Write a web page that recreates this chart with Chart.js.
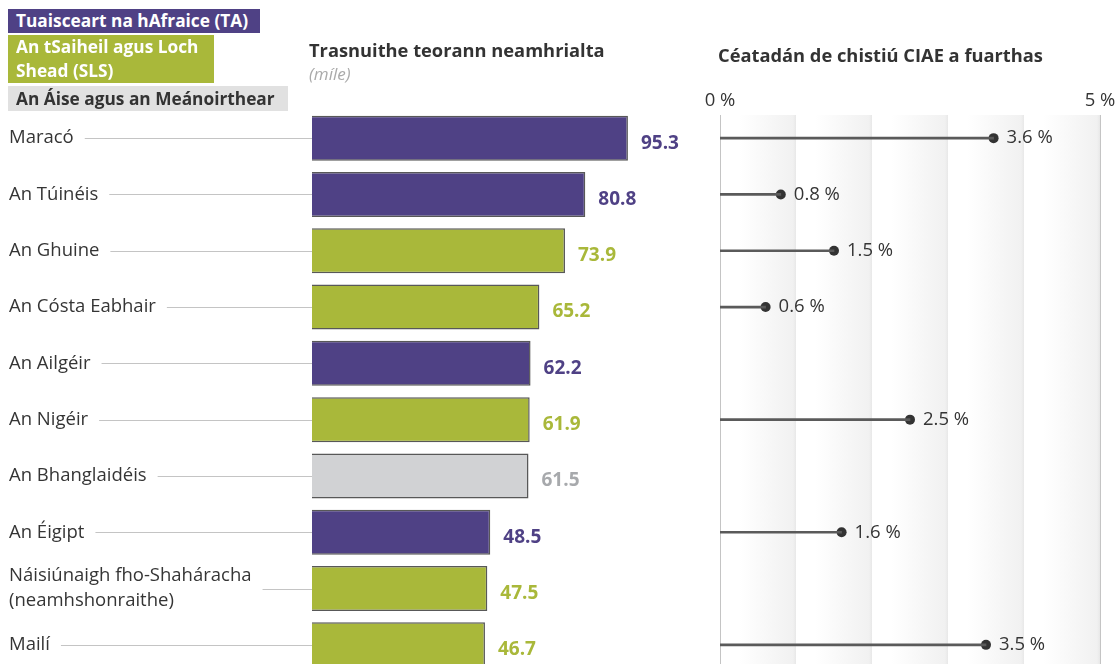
<!DOCTYPE html>
<html lang="ga">
<head>
<meta charset="utf-8">
<title>Trasnuithe teorann neamhrialta</title>
<script src="https://cdn.jsdelivr.net/npm/chart.js@4.4.1/dist/chart.umd.min.js"></script>
<style>
  html, body { margin: 0; padding: 0; background: #fff; overflow: hidden; }
  body { width: 1118px; height: 664px; position: relative; font-family: "Open Sans", sans-serif; color: #333; }
  canvas { position: absolute; top: 0; }
  #bars { left: 0; }
  #share { left: 700px; }
  .key { position: absolute; left: 8px; font-weight: 700; font-size: 17.3px; line-height: 24px;
         padding-left: 8px; box-sizing: border-box; color: #fff; white-space: nowrap; }
  .key.ta { top: 9px; width: 252px; height: 24px; background: #4f4185; }
  .key.sls { top: 35px; width: 206px; height: 48px; background: #a9b83a; }
  .key.ame { top: 86px; width: 280px; height: 25px; line-height: 25px; background: #e1e1e1; color: #333; }
  .title { position: absolute; font-weight: 700; font-size: 18.3px; color: #333; white-space: nowrap; }
  .unit { position: absolute; font-style: italic; font-size: 17px; color: #aaa; }
</style>
</head>
<body>
<canvas id="bars" width="700" height="700"></canvas>
<canvas id="share" width="418" height="700"></canvas>

<div class="key ta">Tuaisceart na hAfraice (TA)</div>
<div class="key sls">An tSaiheil agus Loch<br>Shead (SLS)</div>
<div class="key ame">An Áise agus an Meánoirthear</div>

<div class="title" style="left:309px; top:37px;">Trasnuithe teorann neamhrialta</div>
<div class="unit" style="left:309px; top:62px;">(míle)</div>
<div class="title" style="left:718px; top:42px;">Céatadán de chistiú CIAE a fuarthas</div>

<script>
// data
const countries = [
  "Maracó", "An Túinéis", "An Ghuine", "An Cósta Eabhair", "An Ailgéir",
  "An Nigéir", "An Bhanglaidéis", "An Éigipt",
  ["Náisiúnaigh fho-Shaháracha", "(neamhshonraithe)"], "Mailí"
];
const regions = ["TA", "TA", "SLS", "SLS", "TA", "SLS", "AME", "TA", "SLS", "SLS"];
const crossings = [95.3, 80.8, 73.9, 65.2, 62.2, 61.9, 61.5, 48.5, 47.5, 46.7];
const fundingShare = [3.6, 0.8, 1.5, 0.6, null, 2.5, null, 1.6, null, 3.5];
const shareTicks = [0, 5];

const regionFill = { TA: "#4f4185", SLS: "#a9b83a", AME: "#d1d2d4" };
const regionText = { TA: "#4f4185", SLS: "#a9b83a", AME: "#a7a9ac" };

const FONT = "'Open Sans', sans-serif";
const BAR_MIN = -12.1;

// category labels on the left with thin leader lines to the bars
const rowLabels = {
  id: "rowLabels",
  afterDraw(chart) {
    const ctx = chart.ctx;
    const y = chart.scales.y;
    ctx.save();
    ctx.font = "18.5px " + FONT;
    ctx.fillStyle = "#353535";
    ctx.textBaseline = "middle";
    ctx.textAlign = "left";
    countries.forEach((label, i) => {
      const yc = y.getPixelForValue(i);
      const lines = Array.isArray(label) ? label : [label];
      const lh = 25;
      let widest = 0;
      lines.forEach((t, k) => {
        ctx.fillText(t, 9, yc + (k - (lines.length - 1) / 2) * lh);
        widest = Math.max(widest, ctx.measureText(t).width);
      });
      ctx.beginPath();
      ctx.strokeStyle = "#c4c4c4";
      ctx.lineWidth = 1;
      ctx.moveTo(9 + widest + 11, Math.round(yc) + 0.5);
      ctx.lineTo(chart.chartArea.left, Math.round(yc) + 0.5);
      ctx.stroke();
    });
    ctx.restore();
  }
};

const barValues = {
  id: "barValues",
  afterDatasetsDraw(chart) {
    const ctx = chart.ctx;
    ctx.save();
    ctx.font = "bold 19px " + FONT;
    ctx.textBaseline = "middle";
    ctx.textAlign = "left";
    chart.getDatasetMeta(0).data.forEach((bar, i) => {
      ctx.fillStyle = regionText[regions[i]];
      ctx.fillText(crossings[i].toFixed(1), bar.x + 13, bar.y + 5);
    });
    ctx.restore();
  }
};

new Chart(document.getElementById("bars"), {
  type: "bar",
  data: {
    labels: countries,
    datasets: [{
      data: crossings,
      base: BAR_MIN,
      backgroundColor: regions.map(r => regionFill[r]),
      borderColor: "#585858",
      borderWidth: 1.5,
      barPercentage: 0.8,
      categoryPercentage: 1
    }]
  },
  options: {
    indexAxis: "y",
    responsive: false,
    animation: false,
    layout: { padding: { left: 312, right: 10, top: 110, bottom: 27 } },
    plugins: { legend: { display: false }, tooltip: { enabled: false } },
    scales: {
      x: { display: false, min: BAR_MIN, max: 116.4 },
      y: { display: false }
    }
  },
  plugins: [rowLabels, barValues]
});

// shaded 1-point bands behind the lollipops
const shareBands = {
  id: "shareBands",
  beforeDatasetsDraw(chart) {
    const ctx = chart.ctx;
    const x = chart.scales.x;
    const top = chart.chartArea.top + 5;
    const bottom = chart.chartArea.bottom;
    ctx.save();
    for (let v = x.min; v < x.max; v++) {
      const x0 = x.getPixelForValue(v);
      const x1 = x.getPixelForValue(v + 1);
      const g = ctx.createLinearGradient(x0, 0, x1, 0);
      g.addColorStop(0, "#ffffff");
      g.addColorStop(0.25, "#ffffff");
      g.addColorStop(0.96, "#f1f1f1");
      g.addColorStop(1, "#e8e8e8");
      ctx.fillStyle = g;
      ctx.fillRect(x0, top, x1 - x0, bottom - top);
    }
    ctx.strokeStyle = "#c4c4c4";
    ctx.lineWidth = 1;
    shareTicks.forEach(t => {
      const px = Math.round(x.getPixelForValue(t)) + 0.5;
      ctx.beginPath();
      ctx.moveTo(px, top);
      ctx.lineTo(px, bottom);
      ctx.stroke();
    });
    ctx.restore();
  },
  afterDraw(chart) {
    const ctx = chart.ctx;
    const x = chart.scales.x;
    ctx.save();
    ctx.font = "18.5px " + FONT;
    ctx.fillStyle = "#353535";
    ctx.textBaseline = "middle";
    ctx.textAlign = "center";
    shareTicks.forEach(t => ctx.fillText(t + " %", x.getPixelForValue(t), 101));
    ctx.textAlign = "left";
    chart.getDatasetMeta(1).data.forEach((pt, i) => {
      if (fundingShare[i] == null) return;
      ctx.fillText(fundingShare[i].toFixed(1) + " %", pt.x + 13, pt.y);
    });
    ctx.restore();
  }
};

new Chart(document.getElementById("share"), {
  data: {
    labels: countries,
    datasets: [{
      type: "bar",
      data: fundingShare,
      backgroundColor: "#5a5a5a",
      barThickness: 2
    }, {
      type: "line",
      data: fundingShare,
      showLine: false,
      pointRadius: 5,
      pointBackgroundColor: "#333",
      pointBorderWidth: 0
    }]
  },
  options: {
    indexAxis: "y",
    responsive: false,
    animation: false,
    layout: { padding: { left: 20, right: 18, top: 110, bottom: 27 } },
    plugins: { legend: { display: false }, tooltip: { enabled: false } },
    scales: {
      x: { display: false, min: 0, max: 5 },
      y: { display: false }
    }
  },
  plugins: [shareBands]
});
</script>
</body>
</html>
